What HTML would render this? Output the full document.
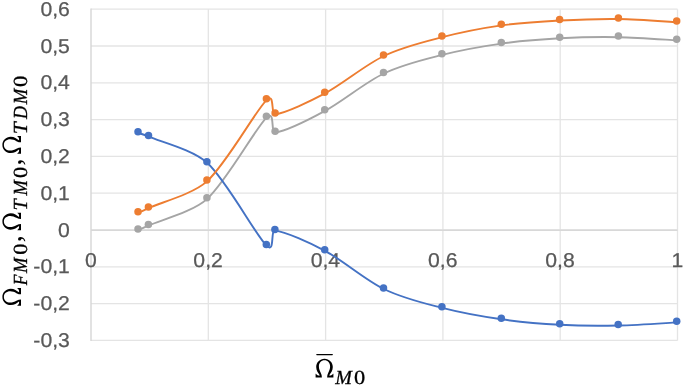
<!DOCTYPE html><html><head><meta charset="utf-8"><style>html,body{margin:0;padding:0;background:#fff;overflow:hidden;}svg{display:block;filter:blur(0px);}text{text-rendering:geometricPrecision;}</style></head><body>
<svg width="685" height="385" viewBox="0 0 685 385">
<defs><path id="om" d="M8.9,-18.6 C4.3,-18.6 0.6,-15.0 0.6,-10.3 C0.6,-6.5 2.6,-4.2 4.3,-2.0 C3.0,-1.7 1.2,-1.9 0.4,-3.6 L0,-3.6 L0,0 L6.3,0 C6.3,-1.5 5.9,-3.0 5.1,-4.6 C4.2,-6.5 3.3,-8.5 3.3,-10.8 C3.3,-14.5 5.6,-17.1 8.9,-17.1 C12.2,-17.1 14.5,-14.5 14.5,-10.8 C14.5,-8.5 13.6,-6.5 12.7,-4.6 C11.9,-3.0 11.5,-1.5 11.5,0 L17.8,0 L17.8,-3.6 L17.4,-3.6 C16.6,-1.9 14.8,-1.7 13.5,-2.0 C15.2,-4.2 17.2,-6.5 17.2,-10.3 C17.2,-15.0 13.5,-18.6 8.9,-18.6 Z"/></defs>
<rect width="685" height="385" fill="#fff"/>
<g stroke="#E4E4E4" stroke-width="1.3"><line x1="91.00" x2="677.50" y1="9.20" y2="9.20"/><line x1="91.00" x2="677.50" y1="46.00" y2="46.00"/><line x1="91.00" x2="677.50" y1="82.80" y2="82.80"/><line x1="91.00" x2="677.50" y1="119.60" y2="119.60"/><line x1="91.00" x2="677.50" y1="156.40" y2="156.40"/><line x1="91.00" x2="677.50" y1="193.20" y2="193.20"/><line x1="91.00" x2="677.50" y1="230.00" y2="230.00"/><line x1="91.00" x2="677.50" y1="266.80" y2="266.80"/><line x1="91.00" x2="677.50" y1="303.60" y2="303.60"/><line x1="91.00" x2="677.50" y1="340.40" y2="340.40"/><line x1="208.30" x2="208.30" y1="9.20" y2="340.40"/><line x1="325.60" x2="325.60" y1="9.20" y2="340.40"/><line x1="442.90" x2="442.90" y1="9.20" y2="340.40"/><line x1="560.20" x2="560.20" y1="9.20" y2="340.40"/><line x1="677.50" x2="677.50" y1="9.20" y2="340.40"/></g>
<line x1="91.00" x2="91.00" y1="8.60" y2="341.00" stroke="#D6D6D6" stroke-width="1.4"/>
<line x1="91.00" x2="677.50" y1="230.30" y2="230.30" stroke="#D8D8D8" stroke-width="1.4"/>
<g font-family="Liberation Sans, sans-serif" font-size="20" fill="#595959" stroke="#595959" stroke-width="0.25"><text transform="translate(69.9,15.75) scale(1.060,1)" text-anchor="end">0,6</text><text transform="translate(69.9,52.55) scale(1.060,1)" text-anchor="end">0,5</text><text transform="translate(69.9,89.35) scale(1.060,1)" text-anchor="end">0,4</text><text transform="translate(69.9,126.15) scale(1.060,1)" text-anchor="end">0,3</text><text transform="translate(69.9,162.95) scale(1.060,1)" text-anchor="end">0,2</text><text transform="translate(69.9,199.75) scale(1.060,1)" text-anchor="end">0,1</text><text transform="translate(69.9,236.55) scale(1.060,1)" text-anchor="end">0</text><text transform="translate(69.9,273.35) scale(1.060,1)" text-anchor="end">-0,1</text><text transform="translate(69.9,310.15) scale(1.060,1)" text-anchor="end">-0,2</text><text transform="translate(69.9,346.95) scale(1.060,1)" text-anchor="end">-0,3</text><text transform="translate(90.80,267.10) scale(1.060,1)" text-anchor="middle">0</text><text transform="translate(208.10,267.10) scale(1.060,1)" text-anchor="middle">0,2</text><text transform="translate(325.40,267.10) scale(1.060,1)" text-anchor="middle">0,4</text><text transform="translate(442.70,267.10) scale(1.060,1)" text-anchor="middle">0,6</text><text transform="translate(560.00,267.10) scale(1.060,1)" text-anchor="middle">0,8</text><text transform="translate(677.30,267.10) scale(1.060,1)" text-anchor="middle">1</text></g>
<path d="M138.30,230.20 C140.03,229.42 145.58,226.92 148.70,225.50 C160.18,220.28 192.98,211.92 207.20,198.90 C226.87,180.88 255.33,128.48 266.70,117.40 C275.39,108.93 270.23,132.98 275.40,132.40 C285.12,131.32 310.75,118.64 325.00,110.90 C343.07,101.08 364.94,82.51 383.80,73.50 C403.33,64.17 424.38,59.42 442.20,54.90 C461.83,49.92 483.64,46.13 501.60,43.60 C521.23,40.83 542.43,39.26 560.00,38.30 C579.52,37.23 601.09,36.88 618.70,37.20 C638.20,37.55 667.28,39.87 677.00,40.40" fill="none" stroke="#A5A5A5" stroke-width="1.9" stroke-linecap="round" stroke-linejoin="round"/>
<g fill="#A5A5A5"><circle cx="138.00" cy="229.10" r="3.75"/><circle cx="148.40" cy="224.40" r="3.75"/><circle cx="206.90" cy="197.80" r="3.75"/><circle cx="266.40" cy="116.30" r="3.75"/><circle cx="275.10" cy="131.30" r="3.75"/><circle cx="324.70" cy="109.80" r="3.75"/><circle cx="383.50" cy="72.40" r="3.75"/><circle cx="441.90" cy="53.80" r="3.75"/><circle cx="501.30" cy="42.50" r="3.75"/><circle cx="559.70" cy="37.20" r="3.75"/><circle cx="618.40" cy="36.10" r="3.75"/><circle cx="676.70" cy="39.30" r="3.75"/></g>
<path d="M138.30,132.80 C140.05,133.43 145.73,135.26 148.80,136.60 C160.28,141.60 193.11,149.75 207.20,162.80 C226.83,180.98 255.27,234.40 266.60,245.70 C275.21,254.29 270.01,230.15 275.20,230.60 C284.93,231.45 310.80,243.16 325.00,250.80 C343.10,260.53 364.89,279.79 383.80,289.00 C403.33,298.52 424.37,303.31 442.20,307.90 C461.83,312.95 483.64,316.72 501.60,319.30 C521.23,322.12 542.43,323.87 560.00,324.80 C579.48,325.83 600.95,325.86 618.50,325.50 C638.00,325.10 667.25,322.92 677.00,322.40" fill="none" stroke="#4472C4" stroke-width="1.9" stroke-linecap="round" stroke-linejoin="round"/>
<g fill="#4472C4"><circle cx="138.00" cy="131.70" r="3.75"/><circle cx="148.50" cy="135.50" r="3.75"/><circle cx="206.90" cy="161.70" r="3.75"/><circle cx="266.30" cy="244.60" r="3.75"/><circle cx="274.90" cy="229.50" r="3.75"/><circle cx="324.70" cy="249.70" r="3.75"/><circle cx="383.50" cy="287.90" r="3.75"/><circle cx="441.90" cy="306.80" r="3.75"/><circle cx="501.30" cy="318.20" r="3.75"/><circle cx="559.70" cy="323.70" r="3.75"/><circle cx="618.20" cy="324.40" r="3.75"/><circle cx="676.70" cy="321.30" r="3.75"/></g>
<path d="M138.30,212.90 C140.03,212.08 145.57,209.45 148.70,208.00 C160.18,202.70 192.96,194.15 207.20,181.10 C226.87,163.08 255.33,111.05 266.70,99.90 C275.06,91.69 270.41,114.76 275.40,114.20 C285.12,113.12 310.78,101.03 325.00,93.40 C343.07,83.70 364.95,65.04 383.80,56.00 C403.33,46.63 424.39,41.83 442.20,37.20 C461.83,32.10 483.61,27.95 501.60,25.40 C521.22,22.62 542.37,21.46 559.90,20.50 C579.42,19.43 601.06,18.74 618.70,19.00 C638.22,19.28 667.28,21.67 677.00,22.20" fill="none" stroke="#ED7D31" stroke-width="1.9" stroke-linecap="round" stroke-linejoin="round"/>
<g fill="#ED7D31"><circle cx="138.00" cy="211.80" r="3.75"/><circle cx="148.40" cy="206.90" r="3.75"/><circle cx="206.90" cy="180.00" r="3.75"/><circle cx="266.40" cy="98.80" r="3.75"/><circle cx="275.10" cy="113.10" r="3.75"/><circle cx="324.70" cy="92.30" r="3.75"/><circle cx="383.50" cy="54.90" r="3.75"/><circle cx="441.90" cy="36.10" r="3.75"/><circle cx="501.30" cy="24.30" r="3.75"/><circle cx="559.60" cy="19.40" r="3.75"/><circle cx="618.40" cy="17.90" r="3.75"/><circle cx="676.70" cy="21.10" r="3.75"/></g>
<g font-family="Liberation Serif, serif" fill="#000" transform="translate(0,305.7) rotate(-90)"><use href="#om" transform="translate(0.00,21.00) scale(0.989,1)"/><text transform="translate(20.37,27.00) scale(0.865,1)" font-size="20" font-style="italic" stroke="#000" stroke-width="0.3">F</text><text transform="translate(32.68,27.00) scale(0.921,1)" font-size="20" font-style="italic" stroke="#000" stroke-width="0.3">M</text><text transform="translate(51.00,27.00) scale(1.119,1)" font-size="20" stroke="#000" stroke-width="0.3">0</text><text transform="translate(63.56,21.00) scale(1.000,1)" font-size="28.5">,</text><use href="#om" transform="translate(75.40,21.00) scale(0.989,1)"/><text transform="translate(95.10,27.00) scale(1.000,1)" font-size="20" font-style="italic" stroke="#000" stroke-width="0.3">T</text><text transform="translate(110.18,27.00) scale(0.921,1)" font-size="20" font-style="italic" stroke="#000" stroke-width="0.3">M</text><text transform="translate(127.70,27.00) scale(1.119,1)" font-size="20" stroke="#000" stroke-width="0.3">0</text><text transform="translate(140.16,21.00) scale(1.000,1)" font-size="28.5">,</text><use href="#om" transform="translate(152.00,21.00) scale(0.989,1)"/><text transform="translate(171.50,27.00) scale(1.073,1)" font-size="20" font-style="italic" stroke="#000" stroke-width="0.3">T</text><text transform="translate(186.68,27.00) scale(0.896,1)" font-size="20" font-style="italic" stroke="#000" stroke-width="0.3">D</text><text transform="translate(201.39,27.00) scale(0.933,1)" font-size="20" font-style="italic" stroke="#000" stroke-width="0.3">M</text><text transform="translate(218.69,27.00) scale(1.143,1)" font-size="20" stroke="#000" stroke-width="0.3">0</text></g>
<g font-family="Liberation Serif, serif" fill="#000"><use href="#om" transform="translate(315.6,377.4)"/><text x="335.30" y="383.5" font-size="20" font-style="italic" stroke="#000" stroke-width="0.3">M</text><text transform="translate(354.00,383.5) scale(1.12,1)" font-size="20" stroke="#000" stroke-width="0.3">0</text><line x1="316.9" x2="332.2" y1="354.6" y2="354.6" stroke="#000" stroke-width="1.45" stroke-linecap="round"/></g>
</svg></body></html>
